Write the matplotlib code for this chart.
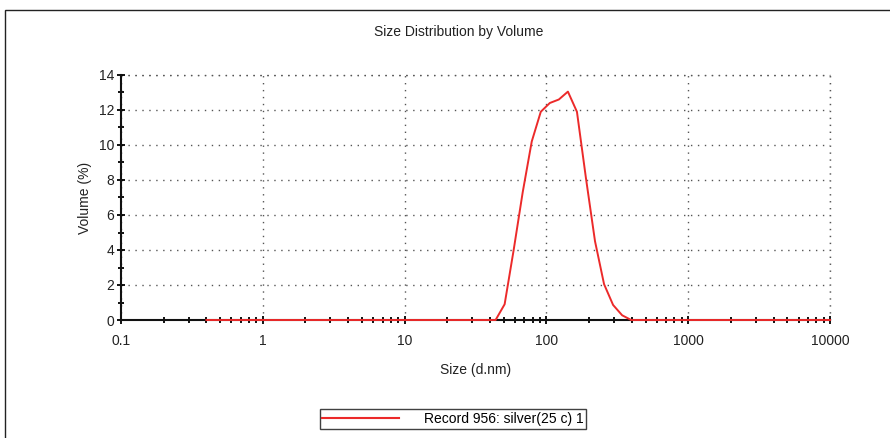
import matplotlib
matplotlib.use('Agg')
import matplotlib.pyplot as plt
from matplotlib.patches import Rectangle
from matplotlib.ticker import LogLocator, MultipleLocator, FixedLocator, FixedFormatter

plt.rcParams['font.family'] = ['Liberation Sans', 'DejaVu Sans']

# ── Data (Zetasizer size bins) ────────────────────────────────────────────────
size_nm = [0.4, 43.82, 50.75, 58.77, 68.06, 78.82, 91.28, 105.7, 122.4,
           141.8, 164.2, 190.1, 220.2, 255.0, 295.3, 342.0, 396.1, 10000]
volume_pct = [0.0, 0.0, 0.9, 4.0, 7.3, 10.2, 11.9, 12.4, 12.6,
              13.05, 11.9, 8.1, 4.5, 2.05, 0.86, 0.27, 0.0, 0.0]
x_ticks = [0.1, 1, 10, 100, 1000, 10000]
x_tick_labels = ['0.1', '1', '10', '100', '1000', '10000']
legend_label = 'Record 956: silver(25 c) 1'

# ── Figure ────────────────────────────────────────────────────────────────────
fig = plt.figure(figsize=(8.9, 4.38), dpi=100)
fig.patches.append(Rectangle((5 / 890, -0.5), 2.0, 0.5 + 1 - 10 / 438,
                             transform=fig.transFigure, fill=False,
                             edgecolor='#222222', lw=1.0))
ax = fig.add_axes([121 / 890, 1 - 320 / 438, (830 - 121) / 890, (320 - 75) / 438])

line, = ax.plot(size_nm, volume_pct, color='#ec2a2a', lw=1.4, zorder=5, clip_on=False)

ax.set_xscale('log')
ax.set_xlim(0.1, 10000)
ax.set_ylim(0, 14)

ax.xaxis.set_major_locator(FixedLocator(x_ticks))
ax.xaxis.set_major_formatter(FixedFormatter(x_tick_labels))
ax.xaxis.set_minor_locator(LogLocator(base=10, subs=range(2, 10)))
ax.yaxis.set_major_locator(MultipleLocator(2))
ax.yaxis.set_minor_locator(MultipleLocator(1))

for s in ['top', 'right']:
    ax.spines[s].set_visible(False)
for s in ['left', 'bottom']:
    ax.spines[s].set_linewidth(1.5)
    ax.spines[s].set_color('#111111')

ax.tick_params(which='major', direction='inout', length=6, width=1.3,
               labelsize=10, labelcolor='#222222')
ax.tick_params(axis='x', which='major', pad=7)
ax.tick_params(axis='y', which='major', pad=2)
ax.tick_params(which='minor', direction='inout', length=5, width=1.3)

grid_style = dict(linestyle=(0, (1, 4)), color='#555555', lw=1.0)
ax.grid(True, which='major', **grid_style)
# grid lines at the top/right limits
ax.axhline(14, zorder=1, clip_on=False, **grid_style)
ax.axvline(10000, zorder=1, clip_on=False, **grid_style)

ax.set_xlabel('Size (d.nm)', fontsize=10, labelpad=11, color='#222222')
ax.set_ylabel('Volume (%)', fontsize=10, labelpad=5, color='#222222')

fig.text(459 / 890, 1 - 32 / 438, 'Size Distribution by Volume',
         ha='center', va='center', fontsize=10, color='#222222')

leg = fig.legend([line], [legend_label], loc='center',
                 bbox_to_anchor=(453 / 890, 1 - 419 / 438), fontsize=10,
                 frameon=True, fancybox=False, edgecolor='#111111',
                 handlelength=5.5, handletextpad=1.8, borderpad=0.2,
                 borderaxespad=0)
leg.get_frame().set_linewidth(1.0)
leg.get_lines()[0].set_linewidth(1.5)

fig.savefig('out.png', dpi=100)
